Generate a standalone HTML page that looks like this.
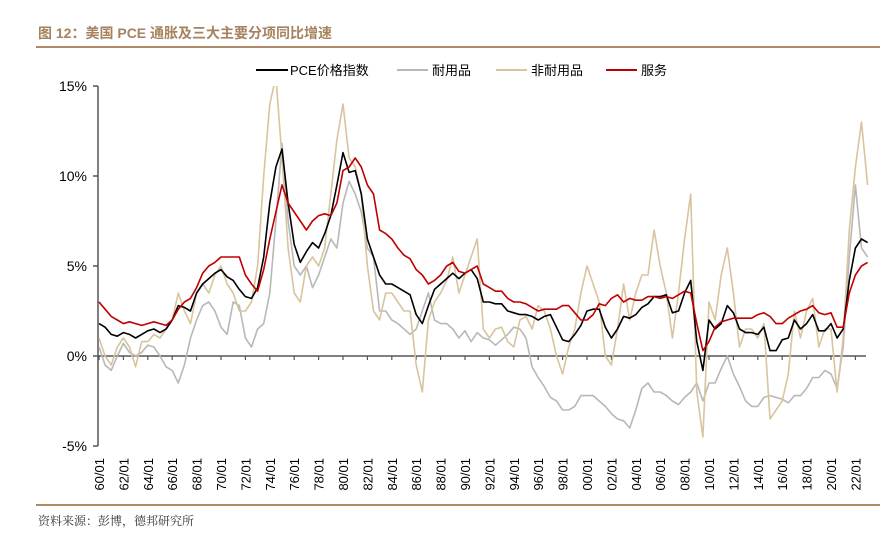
<!DOCTYPE html>
<html><head><meta charset="utf-8"><style>
body{margin:0;background:#fff;width:880px;height:535px;overflow:hidden;font-family:"Liberation Sans","Noto Sans CJK SC",sans-serif}
</style></head><body>
<svg id="chart" width="880" height="535" xmlns="http://www.w3.org/2000/svg">
<text x="38" y="38" font-size="14" font-weight="bold" fill="#a6825f" font-family="Liberation Sans, Noto Sans CJK SC, sans-serif">图 12：美国 PCE 通胀及三大主要分项同比增速</text>
<line x1="36" y1="47" x2="880" y2="47" stroke="#b08a68" stroke-width="2"/>
<line x1="36" y1="505" x2="880" y2="505" stroke="#b08a68" stroke-width="2"/>
<text x="38" y="525" font-size="12" fill="#333" font-family="Liberation Serif, Noto Serif CJK SC, serif">资料来源：彭博，德邦研究所</text>
<defs><clipPath id="plotclip"><rect x="98" y="86" width="780" height="360"/></clipPath></defs>
<g id="legend" font-size="13" fill="#000">
<line x1="256" y1="70" x2="288" y2="70" stroke="#000" stroke-width="2"/><text x="290" y="75">PCE价格指数</text>
<line x1="397" y1="70" x2="428" y2="70" stroke="#b8b8b8" stroke-width="2"/><text x="432" y="75">耐用品</text>
<line x1="496" y1="70" x2="527" y2="70" stroke="#d8c49e" stroke-width="2"/><text x="531" y="75">非耐用品</text>
<line x1="606" y1="70" x2="637" y2="70" stroke="#c00000" stroke-width="2"/><text x="641" y="75">服务</text>
</g>
<g id="axes"></g>
<g id="series" clip-path="url(#plotclip)"></g>
</svg>
<script>
const yTicks=[15,10,5,0,-5];
const xLabels=["60/01","62/01","64/01","66/01","68/01","70/01","72/01","74/01","76/01","78/01","80/01","82/01","84/01","86/01","88/01","90/01","92/01","94/01","96/01","98/01","00/01","02/01","04/01","06/01","08/01","10/01","12/01","14/01","16/01","18/01","20/01","22/01"];
const startYear=1960, stepYears=0.5;
const pce=[1.8,1.6,1.2,1.1,1.3,1.2,1.0,1.2,1.4,1.5,1.3,1.5,2.0,2.8,2.7,2.5,3.5,4.0,4.3,4.6,4.8,4.4,4.2,3.7,3.3,3.2,3.8,5.5,8.5,10.5,11.5,8.5,6.2,5.2,5.8,6.3,6.0,6.8,7.8,9.5,11.3,10.2,10.3,9.0,6.5,5.5,4.5,4.0,4.0,3.8,3.6,3.4,2.3,1.8,2.8,3.7,4.0,4.3,4.6,4.3,4.6,4.8,4.3,3.0,3.0,2.9,2.9,2.5,2.4,2.3,2.3,2.2,2.0,2.2,2.3,1.6,0.9,0.8,1.2,1.7,2.5,2.6,2.6,1.6,1.0,1.5,2.2,2.1,2.3,2.7,2.9,3.3,3.3,3.4,2.4,2.5,3.5,4.2,0.8,-0.8,2.0,1.5,1.8,2.8,2.4,1.5,1.3,1.3,1.2,1.6,0.3,0.3,0.9,1.0,2.0,1.5,1.8,2.3,1.4,1.4,1.8,1.0,1.5,4.2,6.0,6.5,6.3];
const durables=[0.5,-0.5,-0.8,0,0.7,0.2,0.0,0.2,0.6,0.5,0.0,-0.6,-0.8,-1.5,-0.5,1.0,2.0,2.8,3.0,2.5,1.6,1.2,3.0,2.8,1.0,0.5,1.5,1.8,3.5,7.5,11.8,7.5,5.0,4.5,5.0,3.8,4.5,5.5,6.5,6.0,8.5,9.7,9.0,8.0,6.0,5.5,2.5,2.5,2.0,1.8,1.5,1.2,1.5,2.5,3.5,2.0,1.8,1.8,1.5,1.0,1.4,0.8,1.3,1.0,0.9,0.6,0.9,1.2,1.6,1.5,1.0,-0.6,-1.2,-1.7,-2.3,-2.5,-3.0,-3.0,-2.8,-2.2,-2.2,-2.2,-2.5,-2.8,-3.2,-3.5,-3.6,-4.0,-3.0,-1.8,-1.5,-2.0,-2.0,-2.2,-2.5,-2.7,-2.3,-2.0,-1.5,-2.5,-1.5,-1.5,-0.7,0.0,-1.0,-1.7,-2.5,-2.8,-2.8,-2.3,-2.2,-2.3,-2.4,-2.6,-2.2,-2.2,-1.8,-1.2,-1.2,-0.8,-1.0,-1.8,0.5,5.5,9.5,6.0,5.5];
const nondurables=[1.0,0.0,-0.5,0.5,1.0,0.5,-0.6,0.8,0.8,1.2,1.0,1.5,2.0,3.5,2.5,1.8,3.5,4.0,3.5,4.5,5.0,4.0,3.5,2.5,2.5,3.0,5.0,10.0,14.0,15.5,11.0,6.0,3.5,3.0,5.0,5.5,5.0,6.0,9.0,12.0,14.0,11.0,10.5,9.0,5.0,2.5,2.0,3.5,3.5,3.0,2.5,2.5,-0.5,-2.0,2.0,3.0,3.5,4.2,5.5,3.5,4.5,5.5,6.5,1.5,1.0,1.5,1.6,0.8,0.5,2.0,2.2,1.5,2.8,2.5,1.5,0.0,-1.0,0.5,1.5,3.5,5.0,4.0,3.0,0.0,-0.5,1.5,4.0,2.0,3.5,4.5,4.5,7.0,5.0,3.5,1.0,3.5,6.5,9.0,-2.0,-4.5,3.0,2.0,4.5,6.0,3.5,0.5,1.5,1.5,1.0,1.8,-3.5,-3.0,-2.5,-1.0,2.5,1.0,2.5,3.2,0.5,1.5,1.5,-2.0,1.0,7.0,10.5,13.0,9.5];
const services=[3.0,2.6,2.2,2.0,1.8,1.9,1.8,1.7,1.8,1.9,1.8,1.7,2.0,2.6,3.0,3.2,3.8,4.6,5.0,5.2,5.5,5.5,5.5,5.5,4.5,4.0,3.6,4.8,6.5,8.0,9.5,8.5,8.0,7.5,7.0,7.5,7.8,7.9,7.8,8.5,10.3,10.5,11.0,10.5,9.5,9.0,7.0,6.8,6.5,6.0,5.6,5.4,4.8,4.5,4.0,4.2,4.5,5.0,5.2,4.7,4.6,4.8,5.0,4.0,3.8,3.6,3.6,3.2,3.0,3.0,2.9,2.7,2.5,2.6,2.6,2.6,2.8,2.8,2.4,2.0,2.0,2.3,2.9,2.8,3.2,3.4,3.0,3.2,3.1,3.1,3.3,3.3,3.2,3.3,3.2,3.4,3.6,3.5,1.8,0.3,0.8,1.6,1.9,2.0,2.1,2.1,2.1,2.1,2.3,2.4,2.2,1.8,1.8,2.1,2.3,2.5,2.6,2.8,2.4,2.3,2.4,1.6,1.6,3.5,4.5,5.0,5.2];
const NS='http://www.w3.org/2000/svg';
const X0=99, PXY=12.2, Y0=356, PXV=18;
function xScale(yr){return X0+(yr-1960)*PXY;}
function yScale(v){return Y0-v*PXV;}
function mk(tag,attrs,parent){const e=document.createElementNS(NS,tag);for(const k in attrs)e.setAttribute(k,attrs[k]);parent.appendChild(e);return e;}
const axes=document.getElementById('axes');
const yAxis=mk('line',{x1:98,y1:yScale(15),x2:98,y2:yScale(-5),stroke:'#555','stroke-width':1.5},axes);


yTicks.forEach(v=>{
  const t=mk('line',{x1:93,x2:98,y1:yScale(v),y2:yScale(v),stroke:'#555','stroke-width':1.5},axes);
  
  
  const l=mk('text',{x:87,y:yScale(v)+5,'text-anchor':'end','font-size':14,fill:'#000'},axes);
  l.textContent=v+'%';
  
  
});
const xAxis=mk('line',{x1:98,y1:Y0,x2:866,y2:Y0,stroke:'#555','stroke-width':1.5},axes);


xLabels.forEach((s,i)=>{
  const yr=1960+i*2, x=xScale(yr);
  const t=mk('line',{x1:x,x2:x,y1:Y0,y2:Y0+4,stroke:'#555','stroke-width':1.2},axes);
  
  
  const l=mk('text',{x:0,y:0,'text-anchor':'end','font-size':13,fill:'#000',transform:`translate(${x+5},458) rotate(-90)`},axes);
  l.textContent=s;
  
  
});
const sg=document.getElementById('series');
function draw(arr,color,w,name){
  const d=arr.map((v,i)=>(i?'L':'M')+xScale(startYear+i*stepYears).toFixed(1)+','+yScale(v).toFixed(1)).join('');
  const p=mk('path',{d:d,fill:'none',stroke:color,'stroke-width':w,'stroke-linejoin':'round'},sg);
  
  
}
draw(durables,'#b8b8b8',1.6,'durables-line');
draw(nondurables,'#d8c49e',1.6,'nondurables-line');
draw(pce,'#000000',1.6,'pce-line');
draw(services,'#c00000',1.6,'services-line');
</script>
</body></html>
